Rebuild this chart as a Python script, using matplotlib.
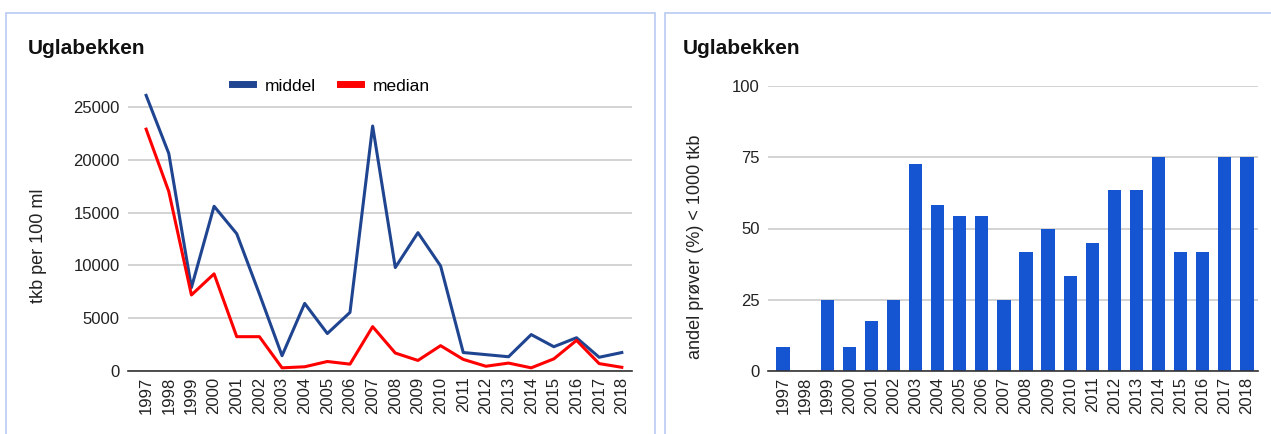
import matplotlib
matplotlib.use("Agg")
import matplotlib.pyplot as plt
from matplotlib.patches import Rectangle

plt.rcParams['font.family'] = ['Liberation Sans', 'DejaVu Sans']

# ---------------------------------------------------------------------------
# Data: Uglabekken, termotolerante koliforme bakterier
# ---------------------------------------------------------------------------
years = [str(y) for y in range(1997, 2019)]

middel = [26100, 20600, 7900, 15600, 13000, 7300, 1450, 6400, 3550, 5550,
          23200, 9800, 13100, 9950, 1750, 1550, 1350, 3450, 2300, 3150,
          1300, 1750]

median = [22900, 17000, 7200, 9200, 3250, 3250, 300, 400, 900, 650,
          4200, 1700, 1000, 2400, 1100, 450, 750, 300, 1150, 2900,
          700, 350]

andel = [8.3, 0, 25, 8.3, 17.6, 25, 72.7, 58.3, 54.5, 54.5,
         25, 41.7, 50, 33.3, 45, 63.6, 63.6, 75, 41.7, 41.7,
         75, 75]

W, H = 1271, 434
BLUE_DARK = '#1f4490'
RED = '#ff0000'
BAR = '#1555d2'
GRID = '#cccccc'
BORDER = '#b9c9f2'
TXT = '#222222'


def px(x0, y0, x1, y1):
    """pixel box (top-left origin) -> figure fraction rect"""
    return [x0 / W, 1 - y1 / H, (x1 - x0) / W, (y1 - y0) / H]


def style_axes(ax):
    ax.set_facecolor('white')
    for s in ['top', 'right', 'left']:
        ax.spines[s].set_visible(False)
    ax.spines['bottom'].set_color('#333333')
    ax.spines['bottom'].set_linewidth(1.2)
    ax.yaxis.grid(True, color=GRID, linewidth=1.2)
    ax.set_axisbelow(True)
    ax.tick_params(axis='both', length=0, labelsize=12, colors=TXT)
    ax.tick_params(axis='y', pad=6)
    ax.tick_params(axis='x', pad=4)
    for lbl in ax.get_xticklabels():
        lbl.set_rotation(90)


fig = plt.figure(figsize=(W / 100, H / 100), dpi=100)

# panel frames
fig.patches.append(Rectangle((6 / W, -0.1), 649 / W, 1.1 - 13 / H,
                             transform=fig.transFigure, fill=False,
                             edgecolor=BORDER, linewidth=1.2))
fig.patches.append(Rectangle((665 / W, -0.1), 0.5, 1.1 - 13 / H,
                             transform=fig.transFigure, fill=False,
                             edgecolor=BORDER, linewidth=1.2))

x = range(len(years))

# ---------------------------------------------------------------------------
# Left: middel / median
# ---------------------------------------------------------------------------
ymax_l = 27500
top_l = 371 - ymax_l / 25000 * 264
ax1 = fig.add_axes(px(128, top_l, 632, 371))
ax1.plot(x, middel, color=BLUE_DARK, linewidth=2.2, label='middel')
ax1.plot(x, median, color=RED, linewidth=2.2, label='median')
ax1.set_xlim(-0.8, len(years) - 1 + 0.45)
ax1.set_ylim(0, ymax_l)
ax1.set_yticks([0, 5000, 10000, 15000, 20000, 25000])
ax1.set_xticks(list(x))
ax1.set_xticklabels(years)
style_axes(ax1)
ax1.set_ylabel('tkb per 100 ml', fontsize=13, color=TXT)
ax1.yaxis.set_label_coords(47 / W, 1 - 246 / H, transform=fig.transFigure)
leg = ax1.legend(loc='center', bbox_to_anchor=(331 / W, 1 - 86 / H),
                 bbox_transform=fig.transFigure, ncol=2, frameon=False,
                 fontsize=12.5, handlelength=1.2, handletextpad=0.7,
                 columnspacing=1.4)
for h in leg.get_lines():
    h.set_linewidth(5)
fig.text(28 / W, 1 - 48 / H, 'Uglabekken', fontsize=15, fontweight='bold',
         va='center', ha='left', color='#111111')

# ---------------------------------------------------------------------------
# Right: andel prøver < 1000 tkb
# ---------------------------------------------------------------------------
ax2 = fig.add_axes(px(768, 86, 1258, 371))
ax2.bar(x, andel, width=0.6, color=BAR)
ax2.set_xlim(-0.68, len(years) - 1 + 0.5)
ax2.set_ylim(0, 100)
ax2.set_yticks([0, 25, 50, 75, 100])
ax2.set_xticks(list(x))
ax2.set_xticklabels(years)
style_axes(ax2)
ax2.set_ylabel('andel prøver (%) < 1000 tkb', fontsize=13, color=TXT)
ax2.yaxis.set_label_coords(704 / W, 1 - 247 / H, transform=fig.transFigure)
fig.text(683 / W, 1 - 48 / H, 'Uglabekken', fontsize=15, fontweight='bold',
         va='center', ha='left', color='#111111')

fig.savefig('out.png', dpi=100, facecolor='white')
